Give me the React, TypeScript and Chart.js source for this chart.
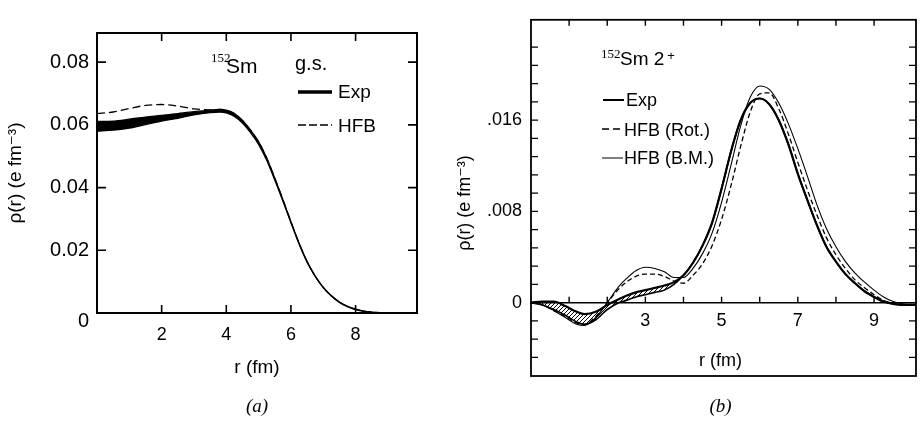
import { useEffect, useRef } from "react";
import { Chart, registerables } from "chart.js";
Chart.register(...registerables);

const FONT = "'Liberation Sans', 'DejaVu Sans', Arial, sans-serif";
const SERIF = "'Liberation Serif', 'DejaVu Serif', serif";

// ---------- Panel (a): 152Sm ground state charge density ----------
const rA = [0, 0.5, 1, 1.5, 2, 2.5, 3, 3.5, 3.8, 4, 4.25, 4.5, 4.75, 5, 5.25, 5.5, 5.75, 6, 6.25, 6.5, 6.75, 7, 7.25, 7.5, 7.75, 8, 8.25, 8.5, 9, 9.9];
const expUpperA = [0.0611, 0.0612, 0.0618, 0.0625, 0.063, 0.0636, 0.0642, 0.0647, 0.0649, 0.0647, 0.0636, 0.0614, 0.0583, 0.0546, 0.0494, 0.043, 0.0362, 0.0291, 0.0223, 0.0164, 0.0118, 0.0082, 0.0055, 0.0035, 0.0021, 0.0012, 0.0006, 0.0003, 0.0001, 0.0];
const expLowerA = [0.058, 0.0583, 0.059, 0.0601, 0.0612, 0.0621, 0.0632, 0.0639, 0.0641, 0.0638, 0.0627, 0.0606, 0.0575, 0.0538, 0.0487, 0.0424, 0.0357, 0.0288, 0.0221, 0.0162, 0.0117, 0.0081, 0.0054, 0.0034, 0.002, 0.0011, 0.0005, 0.0002, 0.0001, 0.0];
const hfbA = [0.0636, 0.0641, 0.0652, 0.0662, 0.0665, 0.066, 0.0651, 0.0648, 0.0649, 0.0647, 0.0636, 0.0614, 0.0583, 0.0546, 0.0494, 0.043, 0.0362, 0.0291, 0.0223, 0.0164, 0.0118, 0.0082, 0.0055, 0.0035, 0.0021, 0.0012, 0.0006, 0.0003, 0.0001, 0.0];
const xTicksA = [2, 4, 6, 8];
const xLabelsA = ["2", "4", "6", "8"];
const yTicksA = [0, 0.02, 0.04, 0.06, 0.08];
const yLabelsA = ["", "0.02", "0.04", "0.06", "0.08"];
const zeroLabelA = "0";

// ---------- Panel (b): 152Sm 2+ transition density ----------
const rB = [0, 0.3, 0.6, 0.9, 1.2, 1.4, 1.7, 2.0, 2.3, 2.5, 2.75, 3.0, 3.25, 3.5, 3.75, 4.0, 4.25, 4.5, 4.75, 5.0, 5.25, 5.5, 5.75, 6.0, 6.25, 6.5, 6.75, 7.0, 7.25, 7.5, 7.75, 8.0, 8.25, 8.5, 8.75, 9.0, 9.25, 9.5, 9.75, 10.1];
const expUpperB = [0, 0.0001, 0.0001, -0.0003, -0.0008, -0.001, -0.0008, -0.0002, 0.0003, 0.0006, 0.0009, 0.0011, 0.0013, 0.0015, 0.0018, 0.0024, 0.0035, 0.005, 0.007, 0.01, 0.0133, 0.016, 0.0175, 0.0179, 0.0174, 0.016, 0.0139, 0.0113, 0.009, 0.0068, 0.0049, 0.0036, 0.0025, 0.0017, 0.001, 0.0005, 0.0001, -0.0001, -0.0002, -0.0002];
const expLowerB = [0, -0.0002, -0.0006, -0.0011, -0.0017, -0.0019, -0.0015, -0.0006, 0.0, 0.0002, 0.0005, 0.0007, 0.0009, 0.0011, 0.0016, 0.0024, 0.0035, 0.005, 0.007, 0.01, 0.0133, 0.016, 0.0175, 0.0179, 0.0174, 0.016, 0.0139, 0.0113, 0.009, 0.0068, 0.0049, 0.0036, 0.0025, 0.0017, 0.001, 0.0005, 0.0001, -0.0001, -0.0002, -0.0002];
const rotB = [0, -0.0002, -0.0007, -0.0012, -0.0018, -0.0019, -0.0012, 0.0, 0.0012, 0.0018, 0.0023, 0.0025, 0.0025, 0.0023, 0.0019, 0.0017, 0.0024, 0.0034, 0.005, 0.0073, 0.0103, 0.0137, 0.0167, 0.0183, 0.0184, 0.017, 0.0148, 0.0123, 0.0099, 0.0077, 0.0057, 0.0042, 0.003, 0.002, 0.0013, 0.0007, 0.0002, -0.0001, -0.0002, -0.0002];
const bmB = [0, -0.0002, -0.0007, -0.0013, -0.0019, -0.002, -0.0013, 0.0, 0.0014, 0.0021, 0.0028, 0.0031, 0.003, 0.0027, 0.0022, 0.0022, 0.003, 0.0043, 0.0061, 0.0088, 0.0121, 0.0155, 0.018, 0.019, 0.0187, 0.0175, 0.0157, 0.0135, 0.0111, 0.0086, 0.0065, 0.0049, 0.0036, 0.0026, 0.0018, 0.0011, 0.0005, 0.0001, -0.0001, -0.0002];
const xTicksB = [3, 5, 7, 9];
const xLabelsB = ["3", "5", "7", "9"];
const xMinorB = [1, 2, 3, 4, 5, 6, 7, 8, 9];
const yTicksB = [-0.0048, -0.0032, -0.0016, 0, 0.0016, 0.0032, 0.0048, 0.0064, 0.008, 0.0096, 0.0112, 0.0128, 0.0144, 0.016, 0.0176, 0.0192, 0.0208, 0.0224];
const yLabelsB = ["", "", "", "0", "", "", "", "", ".008", "", "", "", "", ".016", "", "", "", ""];
const yTitle = "ρ(r) (e fm⁻³)";

const pts = (xs: number[], ys: number[]) => xs.map((x, i) => ({ x, y: ys[i] }));

const base = {
  pointRadius: 0,
  borderColor: "#000",
  cubicInterpolationMode: "monotone" as const,
  fill: false,
};

function text(ctx: CanvasRenderingContext2D, s: string, x: number, y: number, font: string, align: CanvasTextAlign = "left", baseline: CanvasTextBaseline = "alphabetic") {
  ctx.font = font;
  ctx.textAlign = align;
  ctx.textBaseline = baseline;
  ctx.fillStyle = "#000";
  ctx.fillText(s, x, y);
}

const decorA = {
  id: "decorA",
  afterDraw(chart: any) {
    const { ctx, chartArea: a, scales } = chart;
    const x = scales.x, y = scales.y;
    ctx.save();
    ctx.strokeStyle = "#000";
    ctx.lineWidth = 2;
    ctx.strokeRect(a.left, a.top, a.right - a.left, a.bottom - a.top);
    ctx.lineWidth = 1.6;
    ctx.beginPath();
    yTicksA.forEach((v) => {
      const py = y.getPixelForValue(v);
      ctx.moveTo(a.left, py); ctx.lineTo(a.left + 9, py);
      ctx.moveTo(a.right, py); ctx.lineTo(a.right - 9, py);
    });
    xTicksA.forEach((v) => {
      const px = x.getPixelForValue(v);
      ctx.moveTo(px, a.top); ctx.lineTo(px, a.top + 8);
      ctx.moveTo(px, a.bottom); ctx.lineTo(px, a.bottom - 8);
    });
    ctx.stroke();
    // zero label of the y axis sits a little below the axis
    text(ctx, zeroLabelA, a.left - 8, y.getPixelForValue(0) + 8, `20px ${FONT}`, "right", "middle");
    // annotation
    text(ctx, "152", 211, 62, `13px ${SERIF}`);
    text(ctx, "Sm", 226, 73, `21px ${FONT}`);
    text(ctx, "g.s.", 295, 70, `20px ${FONT}`);
    // legend
    ctx.lineWidth = 3.5;
    ctx.beginPath(); ctx.moveTo(298, 92); ctx.lineTo(332, 92); ctx.stroke();
    text(ctx, "Exp", 338, 98, `19px ${FONT}`);
    ctx.lineWidth = 1.5;
    ctx.setLineDash([8, 3]);
    ctx.beginPath(); ctx.moveTo(298, 125); ctx.lineTo(332, 125); ctx.stroke();
    ctx.setLineDash([]);
    text(ctx, "HFB", 338, 132, `19px ${FONT}`);
    // caption
    text(ctx, "(a)", (a.left + a.right) / 2, 412, `italic 19px ${SERIF}`, "center");
    ctx.restore();
  },
};

const decorB = {
  id: "decorB",
  afterDraw(chart: any) {
    const { ctx, chartArea: a, scales } = chart;
    const x = scales.x, y = scales.y;
    ctx.save();
    ctx.strokeStyle = "#000";
    ctx.lineWidth = 1.8;
    ctx.strokeRect(a.left, a.top, a.right - a.left, a.bottom - a.top);
    ctx.lineWidth = 1.4;
    ctx.beginPath();
    yTicksB.forEach((v) => {
      const py = y.getPixelForValue(v);
      ctx.moveTo(a.left, py); ctx.lineTo(a.left + 7, py);
      ctx.moveTo(a.right, py); ctx.lineTo(a.right - 7, py);
    });
    const y0 = y.getPixelForValue(0);
    xMinorB.forEach((v) => {
      const px = x.getPixelForValue(v);
      ctx.moveTo(px, a.top); ctx.lineTo(px, a.top + 6);
      ctx.moveTo(px, y0); ctx.lineTo(px, y0 - 6);
    });
    ctx.stroke();
    const ox = -450;
    // y-axis title (placed slightly below the axis centre, as in the original)
    ctx.save();
    ctx.translate(15, 203);
    ctx.rotate(-Math.PI / 2);
    text(ctx, yTitle, 0, 0, `18px ${FONT}`, "center", "middle");
    ctx.restore();
    // annotation
    text(ctx, "152", 601 + ox, 58, `13px ${SERIF}`);
    ctx.font = `19px ${FONT}`;
    const w = ctx.measureText("Sm 2").width;
    text(ctx, "Sm 2", 620 + ox, 65, `19px ${FONT}`);
    text(ctx, "+", 620 + ox + w + 3, 60, `13px ${FONT}`);
    // legend
    ctx.lineWidth = 2;
    ctx.beginPath(); ctx.moveTo(603 + ox, 100); ctx.lineTo(624 + ox, 100); ctx.stroke();
    text(ctx, "Exp", 626 + ox, 106, `18px ${FONT}`);
    ctx.lineWidth = 1.4;
    ctx.setLineDash([7, 4]);
    ctx.beginPath(); ctx.moveTo(602 + ox, 129); ctx.lineTo(620 + ox, 129); ctx.stroke();
    ctx.setLineDash([]);
    text(ctx, "HFB (Rot.)", 624 + ox, 136, `18px ${FONT}`);
    ctx.lineWidth = 1;
    ctx.beginPath(); ctx.moveTo(602 + ox, 158); ctx.lineTo(623 + ox, 158); ctx.stroke();
    text(ctx, "HFB (B.M.)", 624 + ox, 164, `18px ${FONT}`);
    // x title and caption
    text(ctx, "r (fm)", (a.left + a.right) / 2 - 3, 366, `18px ${FONT}`, "center");
    text(ctx, "(b)", (a.left + a.right) / 2 - 3, 412, `italic 19px ${SERIF}`, "center");
    ctx.restore();
  },
};

export default function App() {
  const refA = useRef<HTMLCanvasElement>(null);
  const refB = useRef<HTMLCanvasElement>(null);

  useEffect(() => {
    Chart.defaults.color = "#000";
    Chart.defaults.font.family = FONT;

    const pc = document.createElement("canvas");
    pc.width = 4; pc.height = 4;
    const pctx = pc.getContext("2d")!;
    pctx.strokeStyle = "#000";
    pctx.lineWidth = 1;
    pctx.beginPath();
    pctx.moveTo(0, 4); pctx.lineTo(4, 0);
    pctx.moveTo(-1, 1); pctx.lineTo(1, -1);
    pctx.moveTo(3, 5); pctx.lineTo(5, 3);
    pctx.stroke();
    const hatch = pctx.createPattern(pc, "repeat");

    const chartA = new Chart(refA.current!, {
      type: "line",
      data: {
        datasets: [
          { ...base, data: pts(rA, expLowerA), borderWidth: 1.3 },
          { ...base, data: pts(rA, expUpperA), borderWidth: 1.3, fill: "-1", backgroundColor: "#000" },
          { ...base, data: pts(rA, hfbA), borderWidth: 1.3, borderDash: [8, 4] },
        ],
      } as any,
      options: {
        responsive: false,
        animation: false,
        devicePixelRatio: 1,
        layout: { padding: { left: 0, top: 33, right: 33, bottom: 0 } },
        plugins: { legend: { display: false }, tooltip: { enabled: false } },
        scales: {
          x: {
            type: "linear", min: 0, max: 9.9, position: "bottom",
            afterBuildTicks: (s: any) => { s.ticks = xTicksA.map((v) => ({ value: v })); },
            afterFit: (s: any) => { s.height = 108; },
            grid: { display: false, drawTicks: false },
            border: { display: false },
            ticks: { autoSkip: false, maxRotation: 0, padding: 11, color: "#000", font: { family: FONT, size: 18 }, callback: (_v: any, i: number) => xLabelsA[i] },
            title: { display: true, text: "r (fm)", color: "#000", font: { family: FONT, size: 19 }, padding: { top: 0, bottom: 41.6 } },
          },
          y: {
            type: "linear", min: 0, max: 0.0893,
            afterBuildTicks: (s: any) => { s.ticks = yTicksA.map((v) => ({ value: v })); },
            afterFit: (s: any) => { s.width = 97; },
            grid: { display: false, drawTicks: false },
            border: { display: false },
            ticks: { autoSkip: false, padding: 8, color: "#000", font: { family: FONT, size: 20 }, callback: (_v: any, i: number) => yLabelsA[i] },
            title: { display: true, text: yTitle, color: "#000", font: { family: FONT, size: 19 }, padding: { top: 4.6, bottom: 0 } },
          },
        },
      } as any,
      plugins: [decorA],
    });

    const chartB = new Chart(refB.current!, {
      type: "line",
      data: {
        datasets: [
          { ...base, data: pts(rB, expLowerB), borderWidth: 1.6 },
          { ...base, data: pts(rB, expUpperB), borderWidth: 2.2, fill: "-1", backgroundColor: hatch },
          { ...base, data: pts(rB, rotB), borderWidth: 1.3, borderDash: [5, 3] },
          { ...base, data: pts(rB, bmB), borderWidth: 1.1 },
        ],
      } as any,
      options: {
        responsive: false,
        animation: false,
        devicePixelRatio: 1,
        layout: { padding: { left: 0, top: 7, right: 5, bottom: 45 } },
        plugins: { legend: { display: false }, tooltip: { enabled: false } },
        scales: {
          x: {
            type: "linear", min: 0, max: 10.1, position: { y: 0 },
            afterBuildTicks: (s: any) => { s.ticks = xTicksB.map((v) => ({ value: v })); },
            grid: { display: false, drawTicks: false },
            border: { display: true, color: "#000", width: 1.5 },
            ticks: { autoSkip: false, maxRotation: 0, padding: 8, color: "#000", font: { family: FONT, size: 18 }, callback: (_v: any, i: number) => xLabelsB[i] },
          },
          y: {
            type: "linear", min: -0.00643, max: 0.0248,
            afterBuildTicks: (s: any) => { s.ticks = yTicksB.map((v) => ({ value: v })); },
            afterFit: (s: any) => { s.width = 81; },
            grid: { display: false, drawTicks: false },
            border: { display: false },
            ticks: { autoSkip: false, padding: 9, color: "#000", font: { family: FONT, size: 18 }, callback: (_v: any, i: number) => yLabelsB[i] },
          },
        },
      } as any,
      plugins: [decorB],
    });

    return () => { chartA.destroy(); chartB.destroy(); };
  }, []);

  return (
    <div style={{ position: "absolute", left: 0, top: 0, width: 921, height: 421, background: "#fff", overflow: "hidden" }}>
      <canvas ref={refA} width={450} height={421} style={{ position: "absolute", left: 0, top: 0, width: 450, height: 421 }} />
      <canvas ref={refB} width={471} height={421} style={{ position: "absolute", left: 450, top: 0, width: 471, height: 421 }} />
    </div>
  );
}
